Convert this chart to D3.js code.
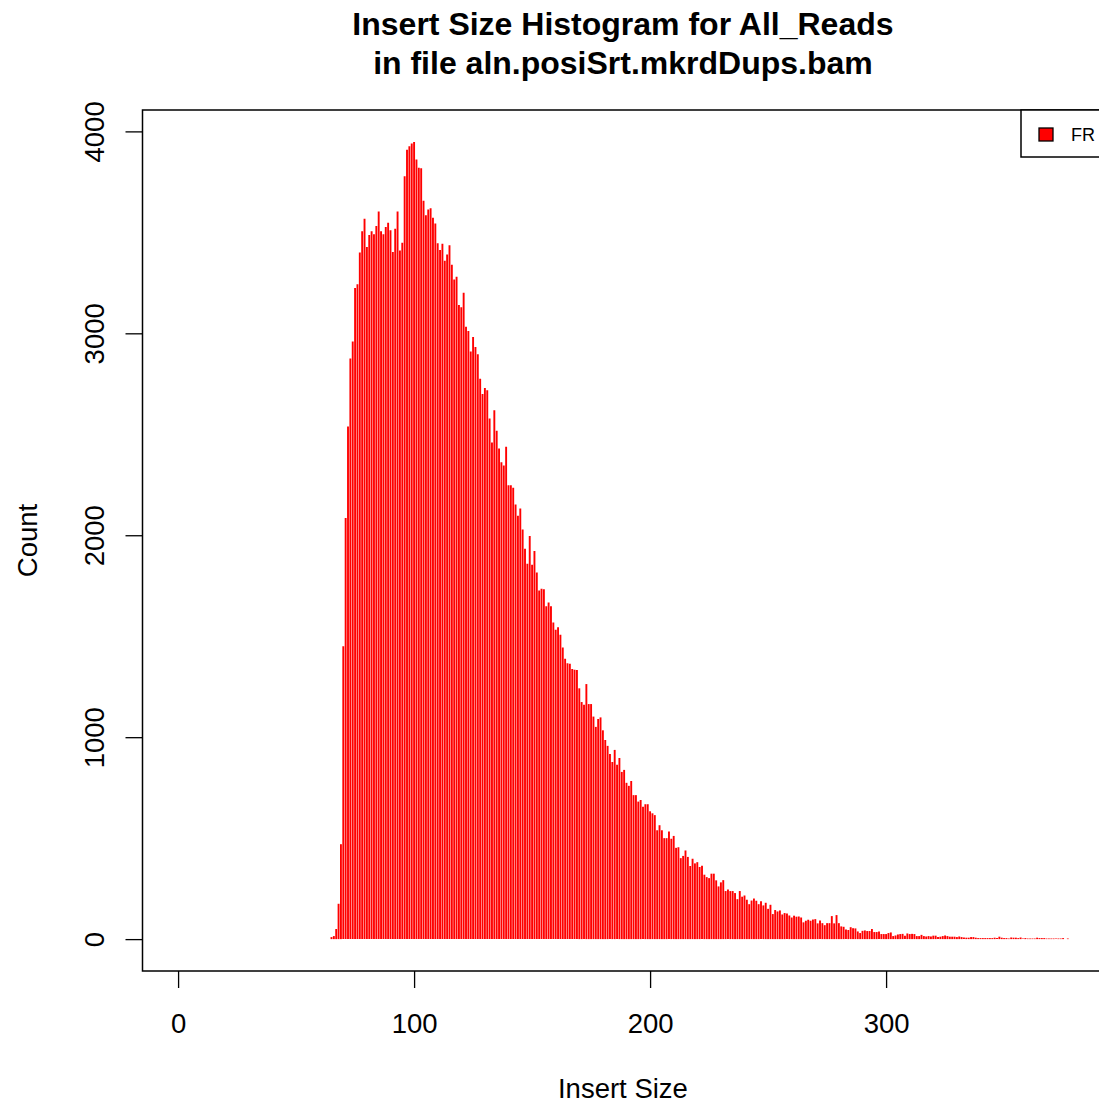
<!DOCTYPE html>
<html>
<head>
<meta charset="utf-8">
<script src="https://cdn.jsdelivr.net/npm/d3@7"></script>
<style>
  body { margin: 0; background: #fff; }
  svg { display: block; font-family: "Liberation Sans", Arial, Helvetica, sans-serif; }
</style>
</head>
<body>
<div class="chart"></div>
<script>
// insert sizes run from 65 to 377, one count for each
const firstSize = 65;
const counts = [
  10, 15, 50, 175, 470, 1450, 2086, 2538, 2875, 2960,
  3225, 3243, 3400, 3505, 3567, 3428, 3487, 3505, 3490, 3531,
  3603, 3505, 3490, 3526, 3547, 3510, 3403, 3518, 3603, 3410,
  3449, 3778, 3909, 3927, 3940, 3948, 3861, 3820, 3817, 3657,
  3585, 3613, 3619, 3572, 3544, 3446, 3413, 3444, 3359, 3390,
  3436, 3340, 3267, 3280, 3140, 3129, 3201, 3032, 3011, 2910,
  2982, 2932, 2896, 2775, 2700, 2729, 2718, 2578, 2459, 2619,
  2517, 2429, 2362, 2346, 2438, 2247, 2247, 2235, 2152, 2096,
  2132, 2028, 1933, 1859, 1996, 1854, 1922, 1816, 1726, 1735,
  1732, 1649, 1667, 1649, 1568, 1532, 1545, 1507, 1444, 1388,
  1366, 1364, 1338, 1334, 1333, 1242, 1174, 1161, 1263, 1164,
  1164, 1102, 1051, 1090, 1098, 1034, 986, 957, 917, 877,
  937, 863, 897, 828, 838, 774, 759, 783, 713, 713,
  681, 689, 655, 668, 668, 633, 623, 614, 539, 564,
  539, 500, 500, 533, 497, 511, 452, 455, 401, 412,
  439, 407, 362, 398, 375, 381, 357, 363, 319, 307,
  302, 324, 324, 291, 261, 281, 292, 238, 246, 238,
  238, 228, 198, 238, 210, 216, 195, 173, 191, 201,
  190, 173, 188, 167, 180, 150, 170, 124, 144, 137,
  142, 122, 129, 127, 117, 107, 116, 111, 112, 107,
  83, 91, 96, 91, 97, 99, 78, 92, 79, 69,
  79, 79, 114, 78, 119, 79, 63, 61, 48, 45,
  59, 54, 53, 38, 30, 41, 43, 40, 40, 50,
  35, 35, 38, 25, 25, 25, 30, 33, 15, 18,
  23, 25, 26, 17, 28, 25, 26, 25, 15, 15,
  21, 15, 13, 15, 13, 17, 17, 10, 12, 15,
  18, 15, 12, 12, 12, 10, 13, 10, 8, 7,
  7, 10, 10, 7, 5, 5, 5, 5, 5, 5,
  5, 7, 5, 12, 7, 5, 5, 3, 8, 7,
  7, 5, 8, 3, 5, 3, 3, 3, 3, 7,
  5, 5, 5, 3, 3, 3, 3, 3, 3, 3,
  5, 0, 3
];
const sizes = d3.range(firstSize, firstSize + counts.length);
const xTicks = [0, 100, 200, 300];
const yTicks = [0, 1000, 2000, 3000, 4000];
const titleLines = ["Insert Size Histogram for All_Reads", "in file aln.posiSrt.mkrdDups.bam"];
const legendLabels = ["FR"];

const width = 1099;
const height = 1103;
const box = { left: 142.5, right: 1103.4, top: 110, bottom: 971 };

const svg = d3.select(".chart")
  .append("svg")
  .attr("width", width)
  .attr("height", height);

// R style usr range: data range padded by 4%
const xMax = d3.max(sizes);
const yMax = d3.max(counts);
const xScale = d3.scaleLinear()
  .domain([-0.04 * xMax, xMax * 1.04])
  .range([box.left, box.right]);
const yScale = d3.scaleLinear()
  .domain([-0.04 * yMax, yMax * 1.04])
  .range([box.bottom, box.top]);

// vertical lines, type = "h"
svg.append("g")
  .selectAll("line")
  .data(sizes)
  .enter()
  .append("line")
  .attr("x1", d => xScale(d))
  .attr("x2", d => xScale(d))
  .attr("y1", yScale(0))
  .attr("y2", (d, i) => yScale(counts[i]))
  .attr("stroke", "#ff0000")
  .attr("stroke-width", 1.9);

// plot box
svg.append("rect")
  .attr("x", box.left)
  .attr("y", box.top)
  .attr("width", box.right - box.left)
  .attr("height", box.bottom - box.top)
  .attr("fill", "none")
  .attr("stroke", "#000")
  .attr("stroke-width", 1.5);

const xAxis = d3.axisBottom(xScale).tickValues(xTicks).tickSize(17).tickFormat(d3.format("d"));
const gx = svg.append("g")
  .attr("transform", "translate(0," + box.bottom + ")")
  .call(xAxis);
gx.select(".domain").remove();
gx.selectAll("line").attr("stroke-width", 1.3);
gx.selectAll("text")
  .attr("y", 62)
  .attr("dy", 0)
  .attr("fill", "#000")
  .style("font-size", "27.5px");

const yAxis = d3.axisLeft(yScale).tickValues(yTicks).tickSize(17).tickFormat(d3.format("d"));
const gy = svg.append("g")
  .attr("transform", "translate(" + box.left + ",0)")
  .call(yAxis);
gy.select(".domain").remove();
gy.selectAll("line").attr("stroke-width", 1.3);
gy.selectAll("text")
  .attr("x", 0)
  .attr("dy", 0)
  .attr("transform", "translate(-39,0) rotate(-90)")
  .attr("text-anchor", "middle")
  .attr("fill", "#000")
  .style("font-size", "27.5px");

// titles
const midX = (box.left + box.right) / 2;
svg.selectAll(".title")
  .data(titleLines)
  .enter()
  .append("text")
  .attr("class", "title")
  .attr("x", midX)
  .attr("y", (d, i) => 35 + i * 39)
  .attr("text-anchor", "middle")
  .style("font-size", "32px")
  .style("font-weight", "bold")
  .text(d => d);

svg.append("text")
  .attr("x", midX)
  .attr("y", 1098)
  .attr("text-anchor", "middle")
  .style("font-size", "27.5px")
  .text("Insert Size");

svg.append("text")
  .attr("transform", "translate(37," + ((box.top + box.bottom) / 2) + ") rotate(-90)")
  .attr("text-anchor", "middle")
  .style("font-size", "27.5px")
  .text("Count");

// legend, top right corner
const legend = svg.append("g");
legend.append("rect")
  .attr("x", 1021)
  .attr("y", box.top)
  .attr("width", 100)
  .attr("height", 47)
  .attr("fill", "#fff")
  .attr("stroke", "#000")
  .attr("stroke-width", 1.5);
legend.selectAll(".key")
  .data(legendLabels)
  .enter()
  .append("rect")
  .attr("class", "key")
  .attr("x", 1039)
  .attr("y", 128)
  .attr("width", 14)
  .attr("height", 13)
  .attr("fill", "#ff0000")
  .attr("stroke", "#000")
  .attr("stroke-width", 1.3);
legend.selectAll(".keytext")
  .data(legendLabels)
  .enter()
  .append("text")
  .attr("class", "keytext")
  .attr("x", 1071)
  .attr("y", 141)
  .style("font-size", "18px")
  .text(d => d);
</script>
</body>
</html>
